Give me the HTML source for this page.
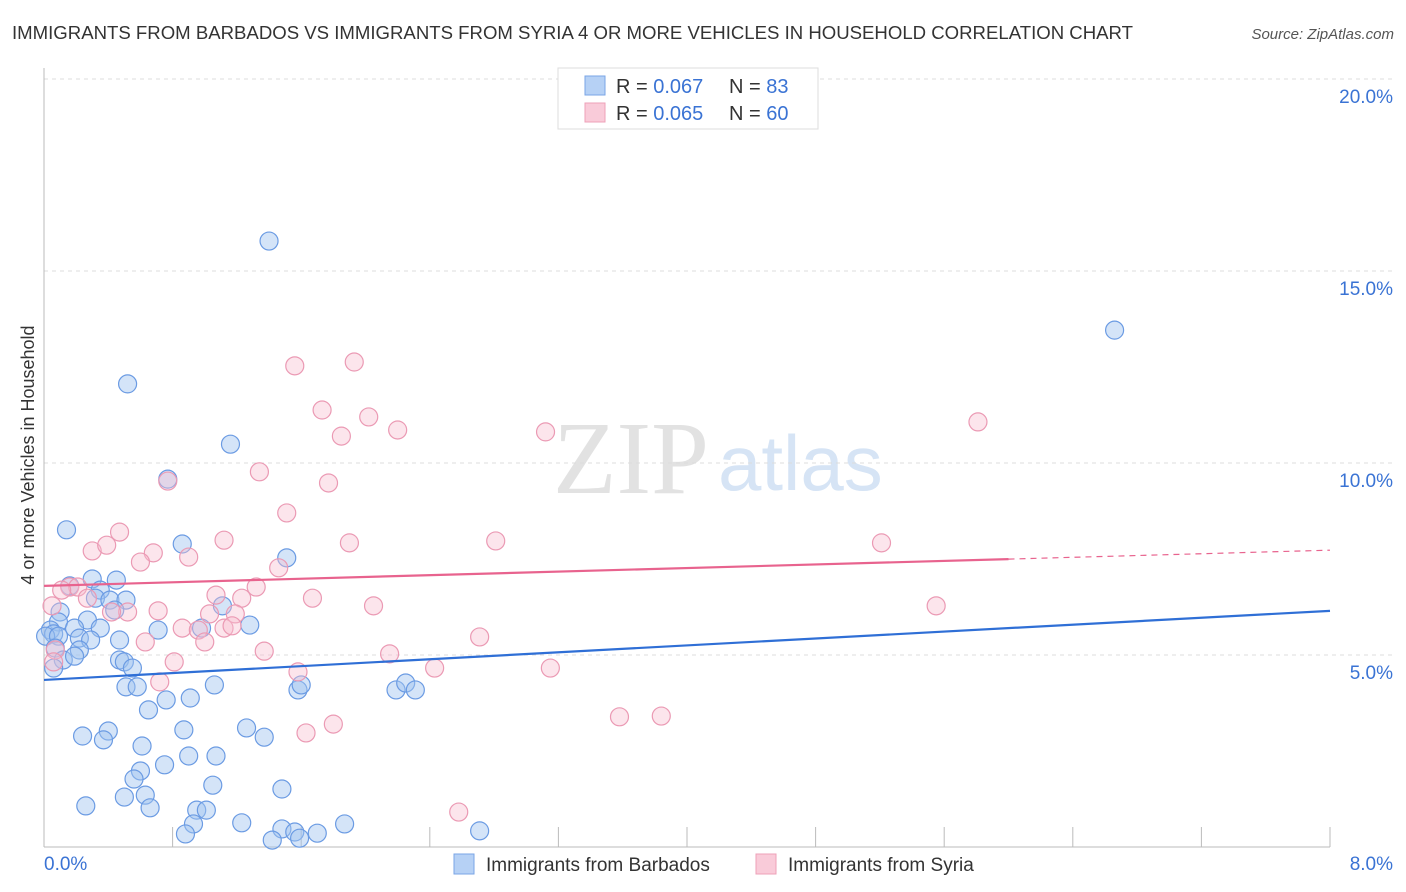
<!DOCTYPE html>
<html><head><meta charset="utf-8"><style>
body{margin:0;background:#fff;font-family:"Liberation Sans",sans-serif;}
svg{display:block}
</style></head><body>
<svg id="chart" width="1406" height="892" xmlns="http://www.w3.org/2000/svg">
<text x="12" y="39" font-size="18.6" fill="#333" textLength="1121">IMMIGRANTS FROM BARBADOS VS IMMIGRANTS FROM SYRIA 4 OR MORE VEHICLES IN HOUSEHOLD CORRELATION CHART</text>
<text x="1394" y="39" font-size="15" fill="#555" font-style="italic" text-anchor="end">Source: ZipAtlas.com</text>
<g>
<text x="553" y="493" font-family="Liberation Serif,serif" font-size="104" fill="#e2e2e2">ZIP</text>
<text x="718" y="490" font-size="78" fill="#d6e4f5">atlas</text>
</g>
<g id="grid"></g>
<g id="axes"></g>
<g id="marks"></g>
<text x="34" y="455" font-size="18" fill="#333" text-anchor="middle" transform="rotate(-90 34 455)">4 or more Vehicles in Household</text>
<g>
<rect x="558" y="68" width="260" height="61" fill="#fff" stroke="#ddd"/>
<rect x="585" y="76" width="20" height="19" fill="#b6d1f5" stroke="#7aa5e6"/>
<rect x="585" y="103" width="20" height="19" fill="#f9cbd9" stroke="#eea0b8"/>
<text x="616" y="93" font-size="20" fill="#333">R = <tspan fill="#3a73d4">0.067</tspan></text>
<text x="729" y="93" font-size="20" fill="#333">N = <tspan fill="#3a73d4"> 83</tspan></text>
<text x="616" y="120" font-size="20" fill="#333">R = <tspan fill="#3a73d4">0.065</tspan></text>
<text x="729" y="120" font-size="20" fill="#333">N = <tspan fill="#3a73d4"> 60</tspan></text>
</g>
<g>
<rect x="454" y="854" width="20" height="20" fill="#b6d1f5" stroke="#7aa5e6"/>
<text x="486" y="871" font-size="19" fill="#333">Immigrants from Barbados</text>
<rect x="756" y="854" width="20" height="20" fill="#f9cbd9" stroke="#eea0b8"/>
<text x="788" y="871" font-size="19" fill="#333">Immigrants from Syria</text>
</g>
</svg>
<script>
const yTicks=[5,10,15,20];
const yTickLabels=["5.0%","10.0%","15.0%","20.0%"];
const xTickCount=10;
const xLabels=["0.0%","8.0%"];
const blueX=[1.40,6.66,0.52,1.16,0.77,0.14,0.86,1.51,0.30,0.45,0.16,0.35,0.32,0.41,0.51,0.44,1.11,0.10,0.09,0.27,1.28,0.35,0.19,0.98,0.71,0.04,0.06,0.01,0.09,0.22,0.47,0.29,0.07,0.22,0.12,0.19,0.47,0.50,0.06,0.55,0.51,0.58,1.06,1.58,1.60,2.19,2.25,2.31,0.76,0.91,0.65,1.26,1.37,0.24,0.40,0.37,0.87,0.61,0.90,1.07,0.75,0.60,0.56,1.05,1.48,0.50,0.63,0.26,0.95,0.66,1.01,0.93,1.23,1.87,1.48,0.88,1.56,1.70,2.71,1.42,1.59];
const blueY=[15.78,13.46,12.06,10.49,9.58,8.26,7.89,7.53,6.98,6.95,6.80,6.69,6.48,6.43,6.43,6.17,6.28,6.12,5.86,5.91,5.78,5.70,5.70,5.70,5.65,5.65,5.55,5.49,5.49,5.44,5.39,5.39,5.18,5.13,4.87,4.97,4.87,4.82,4.66,4.66,4.17,4.17,4.22,4.09,4.22,4.09,4.27,4.09,3.83,3.88,3.57,3.10,2.86,2.89,3.02,2.79,3.05,2.63,2.37,2.37,2.14,1.98,1.77,1.61,1.51,1.30,1.35,1.07,0.96,1.02,0.96,0.60,0.63,0.60,0.47,0.34,0.39,0.36,0.42,0.18,0.23];
const pinkX=[1.56,1.93,1.73,2.02,2.20,1.85,3.12,5.81,1.34,0.77,1.77,1.51,0.47,1.12,0.30,0.68,0.39,0.60,1.90,2.81,5.21,1.46,0.90,0.16,0.21,0.11,0.27,1.32,1.07,1.23,1.67,2.05,5.55,0.52,0.71,0.42,1.19,1.03,0.86,1.12,1.17,0.96,0.63,1.00,2.71,1.37,2.15,0.81,1.58,2.43,3.15,0.72,3.58,3.84,1.80,1.63,2.58,0.05,0.07,0.06];
const pinkY=[12.53,12.63,11.38,11.20,10.86,10.70,10.81,11.07,9.77,9.53,9.48,8.70,8.20,7.99,7.71,7.66,7.86,7.42,7.92,7.97,7.92,7.27,7.55,6.77,6.77,6.69,6.48,6.77,6.56,6.48,6.48,6.28,6.28,6.12,6.15,6.12,6.07,6.07,5.70,5.70,5.76,5.65,5.34,5.34,5.47,5.10,5.03,4.82,4.56,4.66,4.66,4.30,3.39,3.41,3.20,2.97,0.91,6.28,5.13,4.82];
const blueTrend=[4.35,6.15];
const pinkTrend=[6.80,7.73];
const pinkSolidEnd=6.0;
const X0=44,X1=1330,Y0=847,Y20=79;
function sx(v){return X0+(v/8)*(X1-X0);}
function sy(v){return Y0-(v/20)*(Y0-Y20);}
const NS="http://www.w3.org/2000/svg";
function mk(tag,attrs,parent){const e=document.createElementNS(NS,tag);for(const k in attrs)e.setAttribute(k,attrs[k]);parent.appendChild(e);return e;}
const grid=document.getElementById('grid'),axes=document.getElementById('axes'),marks=document.getElementById('marks');
yTicks.forEach((t,i)=>{
  const l=mk('line',{x1:X0,x2:1394,y1:sy(t),y2:sy(t),stroke:'#dcdcdc','stroke-dasharray':'4 4'},grid);
  
  
  const tx=mk('text',{x:1393,y:sy(t)+24,'font-size':19,fill:'#3a73d4','text-anchor':'end'},axes);
  tx.textContent=yTickLabels[i];
  
  
});
mk('line',{x1:X0,x2:X0,y1:68,y2:Y0,stroke:'#bbb'},axes);
mk('line',{x1:X0,x2:X1,y1:Y0,y2:Y0,stroke:'#bbb'},axes);
for(let i=1;i<=xTickCount;i++){
  const t=mk('line',{x1:sx(i*0.8),x2:sx(i*0.8),y1:827,y2:Y0,stroke:'#bbb'},axes);
  
  
}
const xl0=mk('text',{x:44,y:870,'font-size':19,fill:'#3a73d4'},axes);xl0.textContent=xLabels[0];


const xl1=mk('text',{x:1393,y:870,'font-size':19,fill:'#3a73d4','text-anchor':'end'},axes);xl1.textContent=xLabels[1];


blueX.forEach((x,i)=>{
  const c=mk('circle',{cx:sx(x),cy:sy(blueY[i]),r:9,fill:'rgba(160,196,240,0.45)',stroke:'#6b9be3','stroke-width':1.2},marks);
  
  
});
pinkX.forEach((x,i)=>{
  const c=mk('circle',{cx:sx(x),cy:sy(pinkY[i]),r:9,fill:'rgba(248,190,208,0.4)',stroke:'#eb9ab4','stroke-width':1.2},marks);
  
  
});
function ty(tr,x){return tr[0]+(tr[1]-tr[0])*x/8;}
const bl=mk('line',{x1:sx(0),y1:sy(blueTrend[0]),x2:sx(8),y2:sy(blueTrend[1]),stroke:'#2f6fd6','stroke-width':2.2},marks);


const pl=mk('line',{x1:sx(0),y1:sy(pinkTrend[0]),x2:sx(pinkSolidEnd),y2:sy(ty(pinkTrend,pinkSolidEnd)),stroke:'#e8638e','stroke-width':2.2},marks);


const pd=mk('line',{x1:sx(pinkSolidEnd),y1:sy(ty(pinkTrend,pinkSolidEnd)),x2:sx(8),y2:sy(pinkTrend[1]),stroke:'#e8638e','stroke-width':1.2,'stroke-dasharray':'6 5'},marks);


</script>
</body></html>
